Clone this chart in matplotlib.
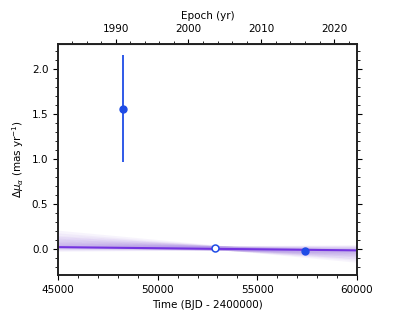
#!/usr/bin/env python3
import numpy as np
import matplotlib
matplotlib.use("Agg")
import matplotlib.pyplot as plt

# epochs (BJD - 2400000) and proper-motion offsets, mas/yr
hip_t, hip_mu, hip_err = 48260.0, 1.56, 0.595
hg_t, hg_mu, hg_err = 52870.0, 0.005, 0.006
gaia_t, gaia_mu, gaia_err = 57389.0, -0.02, 0.01

# best fit model ends and random orbit draws (value at 45000, value at 60000)
t_range = [45000, 60000]
best_fit = [0.02, -0.016]
draw_start = [0.18, 0.15, 0.13, 0.12, 0.11, 0.10, 0.09, 0.08, 0.08, 0.07,
              0.06, 0.06, 0.05, 0.05, 0.04, 0.04, 0.035, 0.03, 0.03, 0.02,
              0.02, 0.01, 0.01, 0.00, -0.01]
draw_end = [-0.13, -0.11, -0.095, -0.09, -0.08, -0.07, -0.065, -0.06, -0.055, -0.05,
            -0.045, -0.04, -0.035, -0.035, -0.03, -0.025, -0.025, -0.02, -0.015, -0.01,
            -0.005, 0.0, 0.005, 0.01, 0.02]

plt.rcParams['font.size'] = 7.5


def jd2yr(t):
    return 2000.0 + (t - 51545.0) / 365.25


def yr2jd(y):
    return 51545.0 + (y - 2000.0) * 365.25


fig = plt.figure(figsize=(4.15, 3.2), dpi=100)
ax = fig.add_axes([0.1398, 0.1406, 0.7205, 0.722])

for s, e in zip(draw_start, draw_end):
    ax.plot(t_range, [s, e], color='#b79be8', alpha=0.1, lw=3, zorder=1)
ax.plot(t_range, best_fit, color='#7433e0', lw=1.5, zorder=2)

ax.errorbar(hip_t, hip_mu, yerr=hip_err, fmt='o', color='#1f4ce6', ms=5,
            elinewidth=1.3, capsize=0, zorder=4)
ax.errorbar(gaia_t, gaia_mu, yerr=gaia_err, fmt='o', color='#1f4ce6', ms=5,
            elinewidth=1.3, capsize=0, zorder=4)
ax.errorbar(hg_t, hg_mu, yerr=hg_err, fmt='o', color='#1f4ce6', mfc='white',
            mec='#1f4ce6', ms=5, mew=1.1, elinewidth=1.1, capsize=0, zorder=4)

ax.set_xlim(45000, 60000)
ax.set_ylim(-0.29, 2.28)
ax.set_xticks([45000, 50000, 55000, 60000])
ax.set_xticks(np.arange(45000, 60001, 1000), minor=True)
ax.set_yticks([0.0, 0.5, 1.0, 1.5, 2.0])
ax.set_yticks(np.arange(-0.2, 2.25, 0.1), minor=True)
ax.tick_params(axis='both', which='both', direction='out', right=True)
ax.tick_params(which='major', length=3.5, width=0.8)
ax.tick_params(which='minor', length=2, width=0.6)
for sp in ax.spines.values():
    sp.set_linewidth(1.4)
    sp.set_color('#222222')
ax.set_xlabel('Time (BJD - 2400000)')
ax.set_ylabel(r'$\Delta \mu_{\alpha}$ (mas yr$^{-1}$)')

top = ax.secondary_xaxis('top', functions=(jd2yr, yr2jd))
top.set_xticks([1990, 2000, 2010, 2020])
top.set_xticks(np.arange(1984, 2024, 2), minor=True)
top.tick_params(which='major', length=3.5, width=0.8, direction='out')
top.tick_params(which='minor', length=2, width=0.6, direction='out')
top.set_xlabel('Epoch (yr)')

fig.savefig('out.png', dpi=100)
